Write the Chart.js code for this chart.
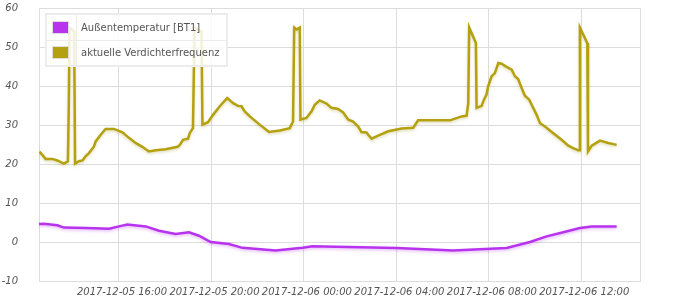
<!DOCTYPE html>
<html>
<head>
<meta charset="utf-8">
<script src="https://cdn.jsdelivr.net/npm/chart.js@4.4.1/dist/chart.umd.min.js"></script>
<style>
  html, body { margin: 0; padding: 0; background: #fff; }
  #wrap { position: relative; width: 680px; height: 300px; }
  #legend {
    position: absolute; left: 45px; top: 13px; width: 183px; height: 54px;
    background: rgba(255,255,255,0.85); border: 1px solid #ececec; box-sizing: border-box;
    font: 10px "DejaVu Sans", Verdana, sans-serif; color: #545454;
  }
  #legend table { border-collapse: collapse; width: 100%; height: 100%; }
  #legend td { border: 1px solid #ececec; padding: 0; }
  #legend td.sw { width: 29px; }
  #legend td.lb { padding-left: 4px; white-space: nowrap; }
  .box { width: 15px; height: 11px; border: 1px solid #ddd; margin-left: 5px; }
  .box div { width: 15px; height: 11px; }
</style>
</head>
<body>
<div id="wrap">
  <canvas id="c" width="680" height="300"></canvas>
  <div id="legend"></div>
</div>
<script>
// ---- data (hours since 2017-12-05 00:00) ----
const seriesNames = ['Außentemperatur [BT1]', 'aktuelle Verdichterfrequenz'];
const seriesColors = ['#b833ee', '#b5a110'];

const tempHours = [12.54, 12.75, 13.33, 13.62, 14.56, 15.57, 16.0, 16.36, 17.16, 17.73, 18.45, 19.03, 19.46, 19.97, 20.76, 21.34, 22.78, 23.94, 24.37, 25.38, 28.01, 30.46, 32.77, 33.78, 34.50, 35.22, 35.94, 36.45, 37.53];
const tempValues = [4.6, 4.7, 4.3, 3.7, 3.6, 3.4, 4.0, 4.5, 4.0, 2.9, 2.05, 2.5, 1.6, 0.0, -0.5, -1.5, -2.15, -1.5, -1.1, -1.2, -1.55, -2.15, -1.55, 0.0, 1.45, 2.5, 3.6, 4.0, 4.0];

const freqHours = [12.56, 12.83, 13.12, 13.33, 13.62, 13.79, 13.83, 13.86, 14.06, 14.10, 14.27, 14.42, 14.56, 14.70, 14.92, 14.99, 15.21, 15.42, 15.78, 16.15, 16.43, 16.72, 17.01, 17.30, 17.59, 18.02, 18.53, 18.63, 18.77, 18.99, 19.06, 19.20, 19.27, 19.30, 19.57, 19.61, 19.85, 20.07, 20.36, 20.68, 20.94, 21.15, 21.30, 21.44, 21.66, 22.09, 22.49, 22.96, 23.39, 23.53, 23.58, 23.69, 23.82, 23.85, 24.11, 24.33, 24.47, 24.68, 24.98, 25.19, 25.48, 25.70, 25.91, 26.13, 26.35, 26.49, 26.71, 26.78, 26.93, 27.21, 27.65, 28.23, 28.73, 28.94, 30.32, 30.82, 31.04, 31.11, 31.15, 31.44, 31.47, 31.69, 31.79, 31.90, 31.97, 32.12, 32.26, 32.41, 32.55, 32.77, 32.99, 33.13, 33.27, 33.42, 33.56, 33.75, 33.92, 34.07, 34.21, 34.43, 34.79, 35.15, 35.44, 35.65, 35.87, 35.91, 35.94, 36.26, 36.29, 36.45, 36.81, 37.17, 37.53];
const freqValues = [23.2, 21.3, 21.3, 20.9, 20.1, 20.7, 35.0, 55.0, 54.0, 20.1, 20.7, 20.9, 22.0, 22.8, 24.5, 25.8, 27.5, 29.0, 29.0, 28.1, 26.7, 25.4, 24.4, 23.2, 23.5, 23.8, 24.4, 24.9, 26.2, 26.5, 27.9, 29.2, 55.0, 55.0, 54.0, 30.1, 30.7, 32.6, 34.8, 36.9, 35.6, 34.9, 34.8, 33.5, 32.2, 30.1, 28.2, 28.6, 29.2, 30.9, 55.0, 54.5, 55.0, 31.4, 31.8, 33.5, 35.2, 36.3, 35.5, 34.4, 34.1, 33.2, 31.4, 30.9, 29.6, 28.2, 28.1, 27.5, 26.5, 27.3, 28.4, 29.1, 29.3, 31.2, 31.2, 32.2, 32.4, 35.6, 55.0, 51.0, 34.4, 34.9, 36.5, 37.8, 39.9, 42.5, 43.3, 45.9, 45.7, 44.9, 44.2, 42.5, 41.8, 39.5, 37.5, 36.5, 34.4, 32.6, 30.5, 29.6, 27.9, 26.2, 24.7, 24.1, 23.5, 23.5, 55.0, 51.0, 23.2, 24.7, 26.0, 25.4, 24.9];

const xMin = 12.54, xMax = 38.54;
const xTickHours = [16, 20, 24, 28, 32, 36];
const xTickLabels = ['2017-12-05 16:00', '2017-12-05 20:00', '2017-12-06 00:00', '2017-12-06 04:00', '2017-12-06 08:00', '2017-12-06 12:00'];
const yMin = -10, yMax = 60, yStep = 10;

// ---- legend (HTML) ----
const lg = document.getElementById('legend');
let html = '<table>';
seriesNames.forEach((n, i) => {
  html += '<tr><td class="sw"><div class="box"><div style="background:' + seriesColors[i] + '"></div></div></td><td class="lb">' + n + '</td></tr>';
});
html += '</table>';
lg.innerHTML = html;

// ---- shadow plugin ----
const shadowPlugin = {
  id: 'lineShadow',
  beforeDatasetDraw(chart, args) {
    const ctx = chart.ctx;
    ctx.save();
    ctx.shadowColor = args.index === 0 ? 'rgba(180,60,230,0.35)' : 'rgba(150,140,20,0.3)';
    ctx.shadowBlur = 3;
    ctx.shadowOffsetX = 0;
    ctx.shadowOffsetY = 1.5;
  },
  afterDatasetDraw(chart) {
    chart.ctx.restore();
  }
};

const tickFont = { family: '"DejaVu Sans", Verdana, sans-serif', size: 10, style: 'italic' };
const gridColor = '#dcdcdc';

new Chart(document.getElementById('c'), {
  type: 'line',
  data: {
    datasets: [
      {
        label: seriesNames[0],
        data: tempHours.map((h, i) => ({ x: h, y: tempValues[i] })),
        borderColor: seriesColors[0], backgroundColor: seriesColors[0],
        borderWidth: 2.5, pointRadius: 0, tension: 0, fill: false
      },
      {
        label: seriesNames[1],
        data: freqHours.map((h, i) => ({ x: h, y: freqValues[i] })),
        borderColor: seriesColors[1], backgroundColor: seriesColors[1],
        borderWidth: 2.5, pointRadius: 0, tension: 0, fill: false
      }
    ]
  },
  options: {
    responsive: false,
    animation: false,
    layout: { padding: { top: 8, right: 40, left: 0, bottom: 0 } },
    plugins: { legend: { display: false }, tooltip: { enabled: false } },
    scales: {
      x: {
        type: 'linear', min: xMin, max: xMax,
        afterBuildTicks(axis) {
          axis.ticks = [xMin].concat(xTickHours, [xMax]).map(v => ({ value: v }));
        },
        afterFit(axis) { axis.height = 19; axis.paddingLeft = 0; axis.paddingRight = 0; },
        grid: { color: gridColor, drawTicks: false, lineWidth: 1 },
        border: { display: true, color: gridColor },
        ticks: {
          autoSkip: false, maxRotation: 0, minRotation: 0, padding: 5, labelOffset: 3,
          color: '#545454', font: tickFont,
          callback(value) {
            const k = xTickHours.indexOf(value);
            return k >= 0 ? xTickLabels[k] : '';
          }
        }
      },
      y: {
        min: yMin, max: yMax,
        afterFit(axis) { axis.width = 39; axis.paddingTop = 6; axis.paddingBottom = 0; },
        grid: { color: gridColor, drawTicks: false, lineWidth: 1 },
        border: { display: true, color: gridColor },
        ticks: { stepSize: yStep, padding: 21, color: '#545454', font: tickFont }
      }
    }
  },
  plugins: [shadowPlugin]
});
</script>
</body>
</html>
